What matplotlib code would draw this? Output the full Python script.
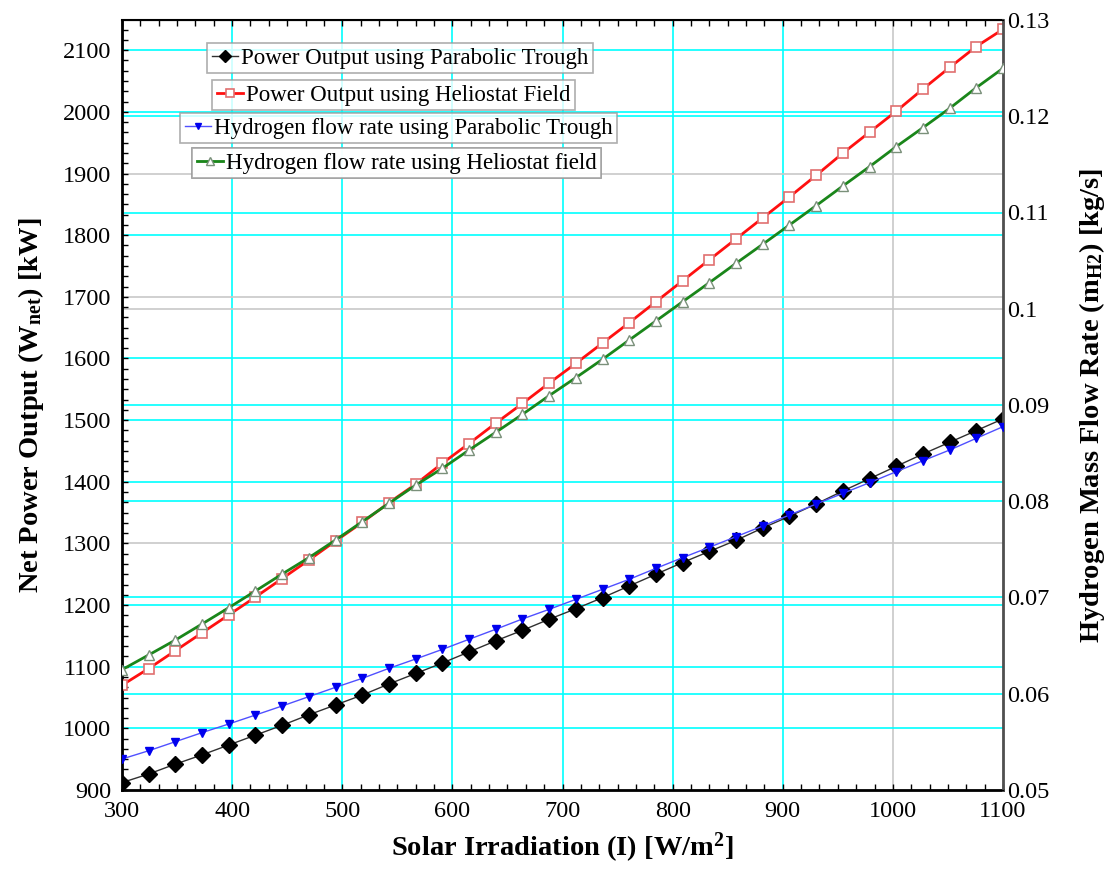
import numpy as np
import matplotlib
matplotlib.use("Agg")
import matplotlib.pyplot as plt
from matplotlib.ticker import MultipleLocator, AutoMinorLocator
import matplotlib.transforms as mtrans

plt.rcParams['font.family'] = ['Liberation Serif', 'DejaVu Serif']
plt.rcParams['mathtext.fontset'] = 'custom'
plt.rcParams['mathtext.rm'] = 'Liberation Serif'
plt.rcParams['mathtext.bf'] = 'Liberation Serif:bold'
plt.rcParams['mathtext.it'] = 'Liberation Serif:italic'

# solar irradiation, 34 evaluation points
irradiation = np.linspace(300, 1100, 34)

# net power output [kW], left axis
power_trough = [912, 926, 942, 957, 973, 989, 1005, 1022, 1038, 1054,
                1072, 1089, 1106, 1124, 1142, 1159, 1177, 1194, 1212, 1231,
                1250, 1269, 1287, 1305, 1325, 1344, 1364, 1385, 1405, 1425,
                1445, 1464, 1483, 1502]
power_heliostat = [1070, 1097, 1126, 1155, 1184, 1213, 1243, 1273, 1304, 1334,
                   1366, 1396, 1430, 1462, 1495, 1527, 1560, 1592, 1625, 1658,
                   1692, 1726, 1760, 1794, 1828, 1862, 1897, 1933, 1967, 2001,
                   2037, 2072, 2106, 2134]

# hydrogen mass flow rate [kg/s], right axis
h2_trough = [0.05322, 0.05408, 0.05502, 0.05596, 0.05686, 0.05779, 0.05873,
             0.05970, 0.06067, 0.06160, 0.06264, 0.06361, 0.06461, 0.06566,
             0.06670, 0.06777, 0.06877, 0.06981, 0.07085, 0.07189, 0.07303,
             0.07414, 0.07522, 0.07632, 0.07743, 0.07857, 0.07971, 0.08082,
             0.08193, 0.08307, 0.08421, 0.08532, 0.08654, 0.08775]
h2_heliostat = [0.06250, 0.06403, 0.06558, 0.06725, 0.06894, 0.07068, 0.07244,
                0.07414, 0.07597, 0.07788, 0.07979, 0.08167, 0.08342, 0.08532,
                0.08716, 0.08903, 0.09097, 0.09284, 0.09475, 0.09675, 0.09873,
                0.10073, 0.10271, 0.10472, 0.10670, 0.10870, 0.11071, 0.11275,
                0.11476, 0.11684, 0.11881, 0.12082, 0.12297, 0.12498]

W, H = 1107, 869
fig = plt.figure(figsize=(W / 100, H / 100), dpi=100)
ax = fig.add_axes([122 / W, 1 - 790 / H, (1003 - 122) / W, (790 - 20) / H])
ax2 = ax.twinx()

ax.set_xlim(300, 1100)
ax.set_ylim(900, 2149)
ax2.set_ylim(0.05, 0.13)

cyan = '#00ffff'
gray = '#c8c8c8'

# grid lines (all on ax so that data of both axes sit above them)
for xv in range(400, 1100, 100):
    ax.axvline(xv, color=gray if xv == 1000 else cyan, lw=1.2, zorder=0)
for yv in range(1000, 2101, 100):
    ax.axhline(yv, color=gray if yv in (1300, 1700, 1900) else cyan, lw=1.2, zorder=0)
blend = mtrans.blended_transform_factory(ax.transAxes, ax2.transData)
for rv in [0.06, 0.07, 0.08, 0.09, 0.10, 0.11, 0.12]:
    ax.plot([0, 1], [rv, rv], transform=blend,
            color=gray if abs(rv - 0.10) < 1e-9 else cyan, lw=1.2, zorder=0)

# data
l1, = ax.plot(irradiation, power_trough, color='#303030', lw=1, marker='D', ms=8.5,
              mfc='black', mec='black', zorder=3)
l2, = ax.plot(irradiation, power_heliostat, color='#ff1010', lw=2, marker='s', ms=7.5,
              mfc='white', mec='#e07070', mew=1.2, zorder=3)
l3, = ax2.plot(irradiation, h2_trough, color='#5050ff', lw=1, marker='v', ms=6,
               mfc='#0000ee', mec='#0000ee', zorder=3)
l4, = ax2.plot(irradiation, h2_heliostat, color='#1a861a', lw=2, marker='^', ms=7.5,
               mfc='white', mec='#7a907a', mew=1, zorder=3)

# ticks
ax.xaxis.set_major_locator(MultipleLocator(100))
ax.xaxis.set_minor_locator(AutoMinorLocator(6))
ax.yaxis.set_major_locator(MultipleLocator(100))
ax.yaxis.set_minor_locator(AutoMinorLocator(6))
ax.tick_params(axis='x', which='both', direction='in', top=True, length=4,
               width=1, labelsize=17.5, pad=8)
ax.tick_params(axis='y', which='both', direction='in', length=4, width=1,
               labelsize=17.5, pad=8)
ax2.tick_params(axis='y', which='both', length=0, labelsize=17.5, pad=3)
ax2.set_yticks([0.05, 0.06, 0.07, 0.08, 0.09, 0.1, 0.11, 0.12, 0.13])
ax2.set_yticklabels(['0.05', '0.06', '0.07', '0.08', '0.09', '0.1', '0.11', '0.12', '0.13'])

for sp in ['left', 'bottom']:
    ax.spines[sp].set_linewidth(2)
ax.spines['top'].set_linewidth(1.5)
ax2.spines['right'].set_linewidth(2)
ax2.spines['right'].set_color('#505050')

ax.set_xlabel(r'Solar Irradiation (I) [W/m$\mathbf{^2}$]', fontsize=20.5,
              fontweight='bold', labelpad=6)
ax.set_ylabel(r'Net Power Output (W$\mathbf{_{net}}$) [kW]', fontsize=20.5,
              fontweight='bold', labelpad=12)
ax2.set_ylabel(r'Hydrogen Mass Flow Rate (m$\mathbf{_{H2}}$) [kg/s]', fontsize=20.5,
               fontweight='bold', labelpad=20)

# EES style individual legend boxes
entries = [
    (l1, 'Power Output using Parabolic Trough', 207, 43),
    (l2, 'Power Output using Heliostat Field', 212, 80),
    (l3, 'Hydrogen flow rate using Parabolic Trough', 180, 113),
    (l4, 'Hydrogen flow rate using Heliostat field', 192, 148),
]
for handle, label, px, py in entries:
    leg = ax2.legend([handle], [label], loc='upper left',
                     bbox_to_anchor=(px / W, 1 - py / H), bbox_transform=fig.transFigure,
                     fontsize=16.5, frameon=True, fancybox=False, borderpad=0.2,
                     handlelength=1.15, handletextpad=0.12, borderaxespad=0,
                     markerscale=0.75)
    leg.get_frame().set_edgecolor('#9a9a9a')
    leg.get_frame().set_linewidth(1.2)
    ax2.add_artist(leg)

fig.savefig('out.png', dpi=100)
